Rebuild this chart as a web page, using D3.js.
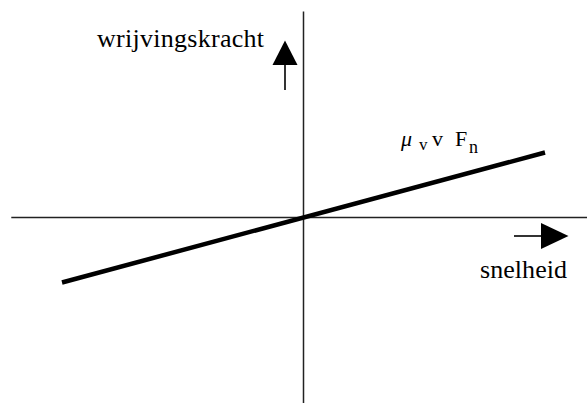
<!DOCTYPE html>
<html>
<head>
<meta charset="utf-8">
<script src="https://cdn.jsdelivr.net/npm/d3@7"></script>
<style>
  body { margin: 0; background: #fff; }
</style>
</head>
<body>
<svg id="chart"></svg>
<script>
// data: friction force proportional to speed (through the origin)
const speed = [-1, 1];
const friction = [-1, 1];

// axis extents in data units
const xAxisExtent = [-1.21, 1.18];
const yAxisExtent = [-2.9, 3.17];

const labels = { x: "snelheid", y: "wrijvingskracht" };

const width = 587, height = 403;
const serif = "'Liberation Serif', 'Times New Roman', 'DejaVu Serif', serif";

const svg = d3.select("#chart")
	.attr("width", width)
	.attr("height", height);

const x = d3.scaleLinear().domain([-1, 1]).range([62, 545]);
const y = d3.scaleLinear().domain([-1, 1]).range([282.5, 152.5]);

// axes
svg.append("line")
	.attr("x1", x(xAxisExtent[0])).attr("x2", x(xAxisExtent[1]))
	.attr("y1", y(0)).attr("y2", y(0))
	.attr("stroke", "#222").attr("stroke-width", 1.5);

svg.append("line")
	.attr("x1", x(0)).attr("x2", x(0))
	.attr("y1", y(yAxisExtent[1])).attr("y2", y(yAxisExtent[0]))
	.attr("stroke", "#222").attr("stroke-width", 1.5);

// the friction line
const line = d3.line()
	.x((d, i) => x(speed[i]))
	.y(d => y(d));

svg.append("path")
	.datum(friction)
	.attr("d", line)
	.attr("fill", "none")
	.attr("stroke", "#000")
	.attr("stroke-width", 4.5);

// up arrow next to the y label
const ua = { x: 285, tip: 40.5, base: 65, foot: 90, half: 12.5 };
svg.append("line")
	.attr("x1", ua.x).attr("x2", ua.x)
	.attr("y1", ua.base).attr("y2", ua.foot)
	.attr("stroke", "#000").attr("stroke-width", 1.6);
svg.append("path")
	.attr("d", `M${ua.x},${ua.tip}L${ua.x + ua.half},${ua.base}L${ua.x - ua.half},${ua.base}Z`)
	.attr("fill", "#000");

// right arrow above the x label
const ra = { y: 236, tip: 568.5, base: 541, foot: 514, half: 13 };
svg.append("line")
	.attr("x1", ra.foot).attr("x2", ra.base)
	.attr("y1", ra.y).attr("y2", ra.y)
	.attr("stroke", "#000").attr("stroke-width", 1.6);
svg.append("path")
	.attr("d", `M${ra.tip},${ra.y}L${ra.base},${ra.y - ra.half}L${ra.base},${ra.y + ra.half}Z`)
	.attr("fill", "#000");

// labels
svg.append("text")
	.attr("x", 97).attr("y", 47)
	.attr("font-family", serif)
	.attr("font-size", 26)
	.attr("textLength", 167)
	.text(labels.y);

svg.append("text")
	.attr("x", 480).attr("y", 278)
	.attr("font-family", serif)
	.attr("font-size", 26)
	.attr("textLength", 87)
	.text(labels.x);

const formula = svg.append("text")
	.attr("font-family", serif)
	.attr("font-size", 22);
formula.append("tspan").attr("x", 401).attr("y", 146).attr("font-style", "italic").text("μ");
formula.append("tspan").attr("x", 419).attr("y", 150).attr("font-size", 17).text("v");
formula.append("tspan").attr("x", 432).attr("y", 146).text("v");
formula.append("tspan").attr("x", 455).attr("y", 146).text("F");
formula.append("tspan").attr("x", 469).attr("y", 153).attr("font-size", 18).text("n");
</script>
</body>
</html>
